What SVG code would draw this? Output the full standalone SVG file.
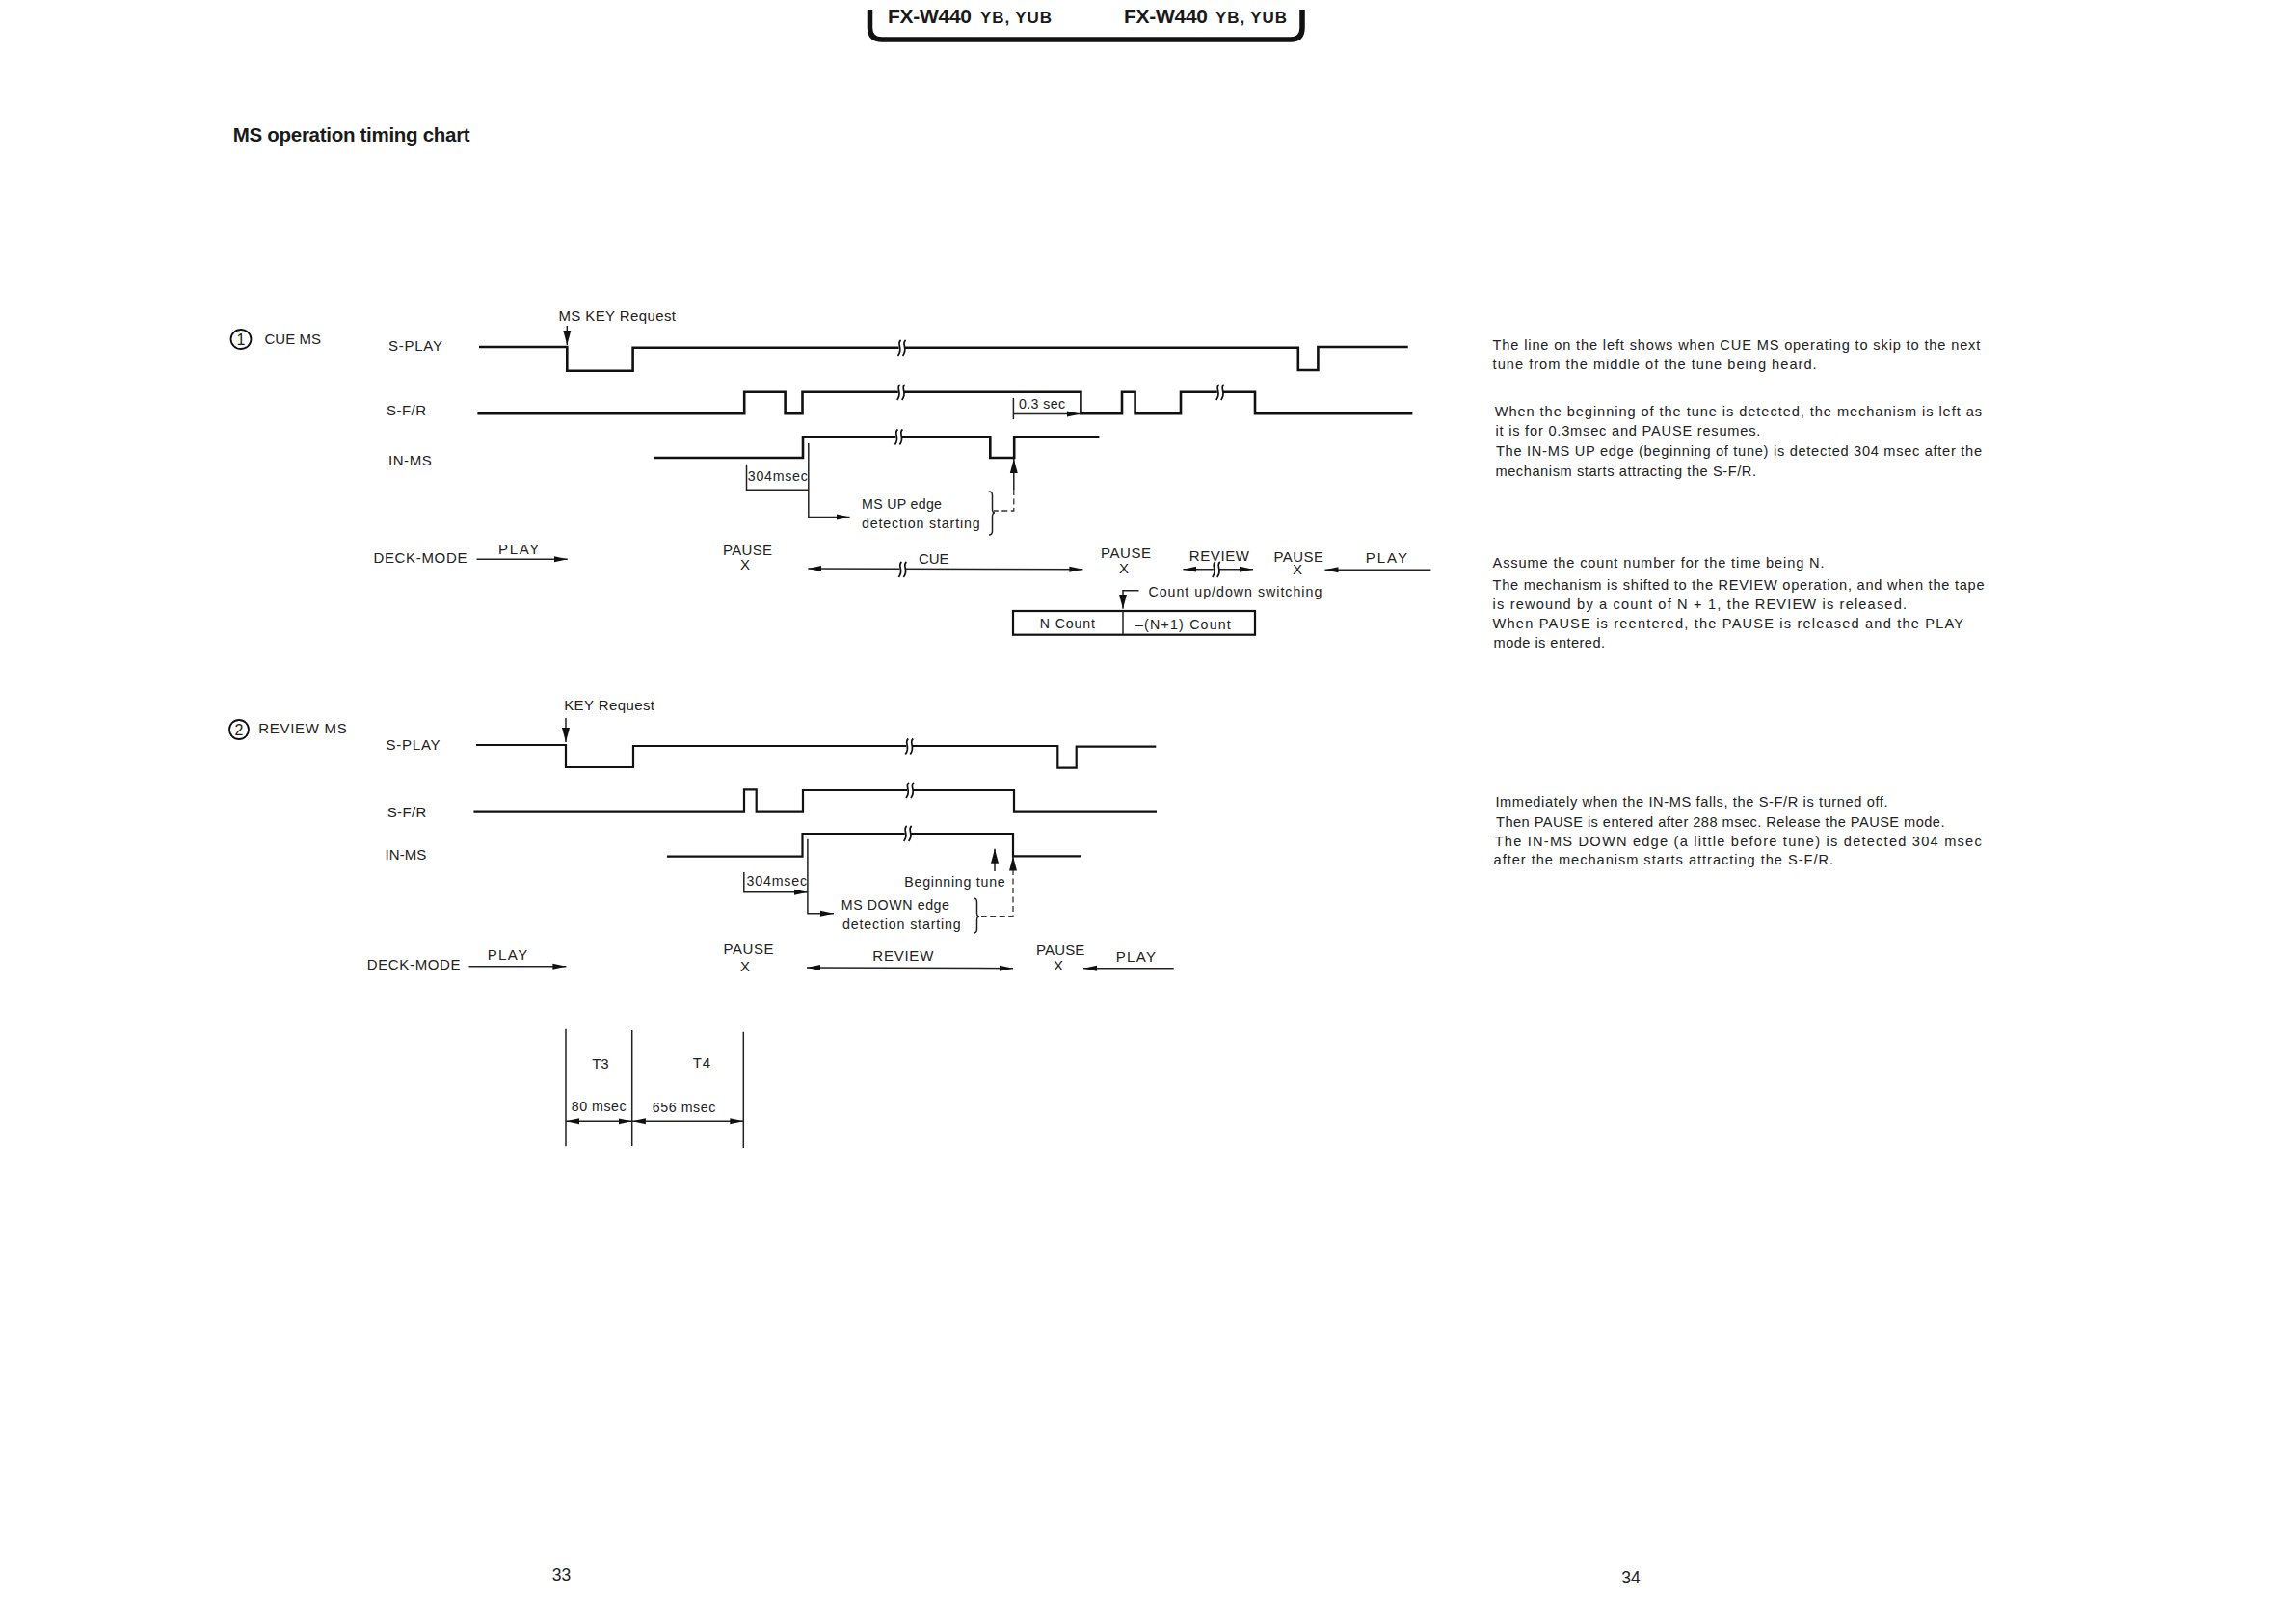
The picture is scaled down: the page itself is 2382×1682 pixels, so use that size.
<svg xmlns="http://www.w3.org/2000/svg" xmlns:xlink="http://www.w3.org/1999/xlink" width="2382" height="1682" viewBox="0 0 2382 1682">
<style>
text{font-family:"Liberation Sans",Arial,sans-serif;fill:#222}
.b{font-weight:bold;fill:#1a1a1a}
.lab{font-size:15px}
.sm{font-size:14.2px}
.note{font-size:14.6px}
.sig{fill:none;stroke:#111;stroke-width:2.6}
.sig2{fill:none;stroke:#111;stroke-width:2.2}
.thin{fill:none;stroke:#222;stroke-width:1.5}
.dash{fill:none;stroke:#333;stroke-width:1.3;stroke-dasharray:6 3.5}
.arr{marker-end:url(#ah)}
.arr2{marker-start:url(#ah);marker-end:url(#ah)}
.brk{fill:none;stroke:#111;stroke-width:1.7}
.gap{fill:#fff;stroke:none}
</style>
<defs>
<marker id="ah" markerUnits="userSpaceOnUse" markerWidth="15" markerHeight="8" refX="14" refY="4" orient="auto-start-reverse">
<path d="M0,1 L14,4 L0,7 Z" fill="#111"/>
</marker>
<marker id="av" markerUnits="userSpaceOnUse" markerWidth="16" markerHeight="9" refX="15" refY="4.5" orient="auto">
<path d="M0,0.5 L15,4.5 L0,8.5 Z" fill="#111"/>
</marker>
<g id="brk">
<rect class="gap" x="-3" y="-3" width="6" height="6"/>
<path class="brk" d="M-1,-8 C-6,-4 2,0 -4,8"/>
<path class="brk" d="M4,-8 C-1,-4 7,0 1,8"/>
</g>
</defs>
<rect width="2382" height="1682" fill="#fff"/>

<g id="header">
<path d="M902.500,10 V29 Q902.500,41 915,41 H1339 Q1351,41 1351,29 V10" fill="none" stroke="#111" stroke-width="5.5"/>
<text class="b" x="921" y="24" font-size="21" textLength="87">FX-W440</text>
<text class="b" x="1017" y="24" font-size="17" textLength="74">YB, YUB</text>
<text class="b" x="1166" y="24" font-size="21" textLength="87">FX-W440</text>
<text class="b" x="1261" y="24" font-size="17" textLength="74">YB, YUB</text>
</g>
<text id="title" class="b" x="241.700" y="147" font-size="20.500" textLength="246">MS operation timing chart</text>

<g id="cue-ms">
<ellipse cx="250" cy="352" rx="10.500" ry="10" fill="none" stroke="#111" stroke-width="1.8"/>
<text x="250" y="358" font-size="16" text-anchor="middle">1</text>
<text class="lab" x="274.500" y="356.700" textLength="58.500">CUE MS</text>
<text class="lab" x="579.400" y="333.300" textLength="121.600">MS KEY Request</text>
<text class="lab" x="403" y="364" textLength="56">S-PLAY</text>
<text class="lab" x="401" y="430.700" textLength="41">S-F/R</text>
<text class="lab" x="403" y="483.300" textLength="44.700">IN-MS</text>
<text class="lab" x="387.400" y="584" textLength="97">DECK-MODE</text>
<text class="lab" x="517" y="575" textLength="42.300">PLAY</text>
<text class="lab" x="750" y="576" textLength="51">PAUSE</text>
<text class="lab" x="768" y="591" textLength="9">X</text>
<text class="lab" x="953" y="585" textLength="31.600">CUE</text>
<text class="lab" x="1142" y="578.700" textLength="52">PAUSE</text>
<text class="lab" x="1161" y="595" textLength="9">X</text>
<text class="lab" x="1233.700" y="581.700" textLength="62.300">REVIEW</text>
<text class="lab" x="1321.500" y="582.700" textLength="51.500">PAUSE</text>
<text class="lab" x="1341" y="596" textLength="9">X</text>
<text class="lab" x="1416.800" y="584.300" textLength="43.200">PLAY</text>
<text class="sm" x="775.800" y="499.300" textLength="62">304msec</text>
<text class="sm" x="1057" y="424" textLength="48">0.3 sec</text>
<text class="sm" x="894" y="528" textLength="83">MS UP edge</text>
<text class="sm" x="894" y="548" textLength="122.600">detection starting</text>
<text class="sm" x="1191.400" y="619.300" textLength="179.900">Count up/down switching</text>
<rect x="1051" y="634" width="251" height="24.700" fill="none" stroke="#111" stroke-width="2.2"/>
<path class="thin" d="M1165,634 V658.700"/>
<text class="sm" x="1078.700" y="652" textLength="57.300">N Count</text>
<text class="sm" x="1178" y="652.700" textLength="98.800">–(N+1) Count</text>
</g>

<g id="review-ms">
<ellipse cx="248" cy="757" rx="10" ry="10" fill="none" stroke="#111" stroke-width="1.8"/>
<text x="248" y="763" font-size="16" text-anchor="middle">2</text>
<text class="lab" x="268.200" y="761" textLength="91.500">REVIEW MS</text>
<text class="lab" x="585.200" y="736.700" textLength="93.800">KEY Request</text>
<text class="lab" x="400.400" y="777.700" textLength="56.200">S-PLAY</text>
<text class="lab" x="401.700" y="847.700" textLength="40.600">S-F/R</text>
<text class="lab" x="399.500" y="891.700" textLength="42.800">IN-MS</text>
<text class="lab" x="380.700" y="1006" textLength="96.900">DECK-MODE</text>
<text class="lab" x="505.700" y="996" textLength="41.500">PLAY</text>
<text class="lab" x="750.400" y="990" textLength="52.200">PAUSE</text>
<text class="lab" x="768" y="1007.700" textLength="9">X</text>
<text class="lab" x="905.300" y="997.300" textLength="63">REVIEW</text>
<text class="lab" x="1075" y="990.700" textLength="50.300">PAUSE</text>
<text class="lab" x="1093" y="1007.300" textLength="9">X</text>
<text class="lab" x="1157.700" y="998.300" textLength="41.300">PLAY</text>
<text class="sm" x="774.500" y="919" textLength="62.500">304msec</text>
<text class="sm" x="938.300" y="920" textLength="104.400">Beginning tune</text>
<text class="sm" x="872.700" y="944.300" textLength="112.300">MS DOWN edge</text>
<text class="sm" x="874" y="963.700" textLength="122.700">detection starting</text>
</g>

<g id="timing-t3-t4">
<text class="lab" x="614.200" y="1109" textLength="17.400">T3</text>
<text class="lab" x="718.700" y="1108.300" textLength="18.300">T4</text>
<text class="sm" x="592.800" y="1152.700" textLength="56.700">80 msec</text>
<text class="sm" x="676.700" y="1154" textLength="65.600">656 msec</text>
</g>

<g id="connectors">
<path class="sig" d="M497,360 H588.300 V384.700 H656.600 V360.700 H1346.800 V384 H1367.400 V360 H1460.700"/>
<path class="sig" d="M495.400,429.300 H772.200 V406.700 H814.600 V429.300 H832.500 V406.700 H1121.400 V429.300 H1164 V406.700 H1177.600 V429.300 H1225 V406.700 H1302 V429.300 H1465.400"/>
<path class="sig" d="M678.500,475 H833 V453.300 H1027.300 V475 H1052.200 V453.300 H1140.400"/>
<use xlink:href="#brk" href="#brk" x="935.600" y="361"/>
<use xlink:href="#brk" href="#brk" x="934.800" y="407"/>
<use xlink:href="#brk" href="#brk" x="932.400" y="453.500"/>
<use xlink:href="#brk" href="#brk" x="1265.800" y="407"/>
<path class="thin" d="M588.300,338 V358" marker-end="url(#av)"/>
<path class="thin" d="M838.800,460 V536.500 H881.600" marker-end="url(#ah)"/>
<path class="thin" d="M774.500,481.700 V508.300 H838.800"/>
<path class="thin" d="M1051.400,413 V435"/>
<path class="thin" d="M1051.400,429.500 H1121" marker-end="url(#ah)"/>
<path class="thin" d="M1051.800,508 V476" stroke-width="2" marker-end="url(#av)"/>
<path class="dash" d="M1051.800,508 V530 H1031"/>
<path class="thin" d="M1026,510 Q1029.500,510 1029.500,514 V528 Q1029.500,532 1032,532 Q1029.500,532 1029.500,536 V551 Q1029.500,555 1026,555"/>
<path class="thin arr" d="M494.500,580.300 H588.800"/>
<path class="thin arr2" d="M838.300,590 L1123.400,590.700"/>
<use xlink:href="#brk" href="#brk" x="936.400" y="591"/>
<path class="thin arr2" d="M1227.400,590.700 H1300"/>
<use xlink:href="#brk" href="#brk" x="1261.800" y="591"/>
<path class="thin" d="M1484.400,591.300 H1374.500" marker-end="url(#ah)"/>
<path class="thin" d="M1181.500,612.700 H1165 V631.700" marker-end="url(#av)"/>
<path class="sig2" d="M494,773 H587 V796 H657 V774 H1097.300 V796.700 H1116.700 V774.700 H1199.300"/>
<path class="sig2" d="M491.400,842.700 H772 V819.300 H784.700 V842.700 H833 V820 H1052 V842.700 H1200"/>
<path class="sig2" d="M691.900,888.700 H832.500 V865 H1051 V888.300 H1121.700"/>
<use xlink:href="#brk" href="#brk" x="943.300" y="774.500"/>
<use xlink:href="#brk" href="#brk" x="944" y="820"/>
<use xlink:href="#brk" href="#brk" x="941.700" y="865"/>
<path class="thin" d="M587,745 V770" marker-end="url(#av)"/>
<path class="thin" d="M837.900,870.700 V947.700 H865" marker-end="url(#ah)"/>
<path class="thin" d="M771.800,905 V925.700 H837.900" marker-end="url(#ah)"/>
<path class="thin" d="M1032,904 V880.700" marker-end="url(#av)"/>
<path class="dash" d="M1051,902 V950.700 H1018"/>
<path class="thin" d="M1051,902 V888.500" marker-end="url(#av)"/>
<path class="thin" d="M1010,932 Q1013.500,932 1013.500,936 V947 Q1013.500,951 1016,951 Q1013.500,951 1013.500,955 V964 Q1013.500,968 1010,968"/>
<path class="thin arr" d="M486.500,1002.700 H587.400"/>
<path class="thin arr2" d="M837,1004 L1051,1004.700"/>
<path class="thin" d="M1217.700,1004.700 H1124" marker-end="url(#ah)"/>
<path class="thin" d="M587,1067.700 V1189.300 M655.700,1069 V1189 M771.300,1070.700 V1191"/>
<path class="thin arr2" d="M587,1163.300 H655.500"/>
<path class="thin arr2" d="M655.900,1163.300 H771.300"/>
</g>

<g id="notes">
<text class="note" x="1548.600" y="363.300" textLength="505.700">The line on the left shows when CUE MS operating to skip to the next</text>
<text class="note" x="1548.600" y="383.300" textLength="336">tune from the middle of the tune being heard.</text>
<text class="note" x="1550.700" y="431.700" textLength="505.300">When the beginning of the tune is detected, the mechanism is left as</text>
<text class="note" x="1551.400" y="451.700" textLength="275">it is for 0.3msec and PAUSE resumes.</text>
<text class="note" x="1552" y="473.300" textLength="504">The IN-MS UP edge (beginning of tune) is detected 304 msec after the</text>
<text class="note" x="1551.400" y="494" textLength="270.600">mechanism starts attracting the S-F/R.</text>
<text class="note" x="1548.600" y="589.300" textLength="343.900">Assume the count number for the time being N.</text>
<text class="note" x="1548.600" y="611.700" textLength="510">The mechanism is shifted to the REVIEW operation, and when the tape</text>
<text class="note" x="1548.600" y="631.700" textLength="429.400">is rewound by a count of N + 1, the REVIEW is released.</text>
<text class="note" x="1548.600" y="651.700" textLength="488.400">When PAUSE is reentered, the PAUSE is released and the PLAY</text>
<text class="note" x="1549.600" y="671.700" textLength="115.400">mode is entered.</text>
<text class="note" x="1551.400" y="837.300" textLength="407.200">Immediately when the IN-MS falls, the S-F/R is turned off.</text>
<text class="note" x="1552" y="857.700" textLength="465.500">Then PAUSE is entered after 288 msec. Release the PAUSE mode.</text>
<text class="note" x="1550.700" y="877.700" textLength="505">The IN-MS DOWN edge (a little before tune) is detected 304 msec</text>
<text class="note" x="1549.600" y="897.300" textLength="352.400">after the mechanism starts attracting the S-F/R.</text>
</g>

<g id="page-numbers">
<text x="572.700" y="1640" font-size="17.500" textLength="19.600">33</text>
<text x="1682.300" y="1643.300" font-size="17.500" textLength="19.400">34</text>
</g>
</svg>
